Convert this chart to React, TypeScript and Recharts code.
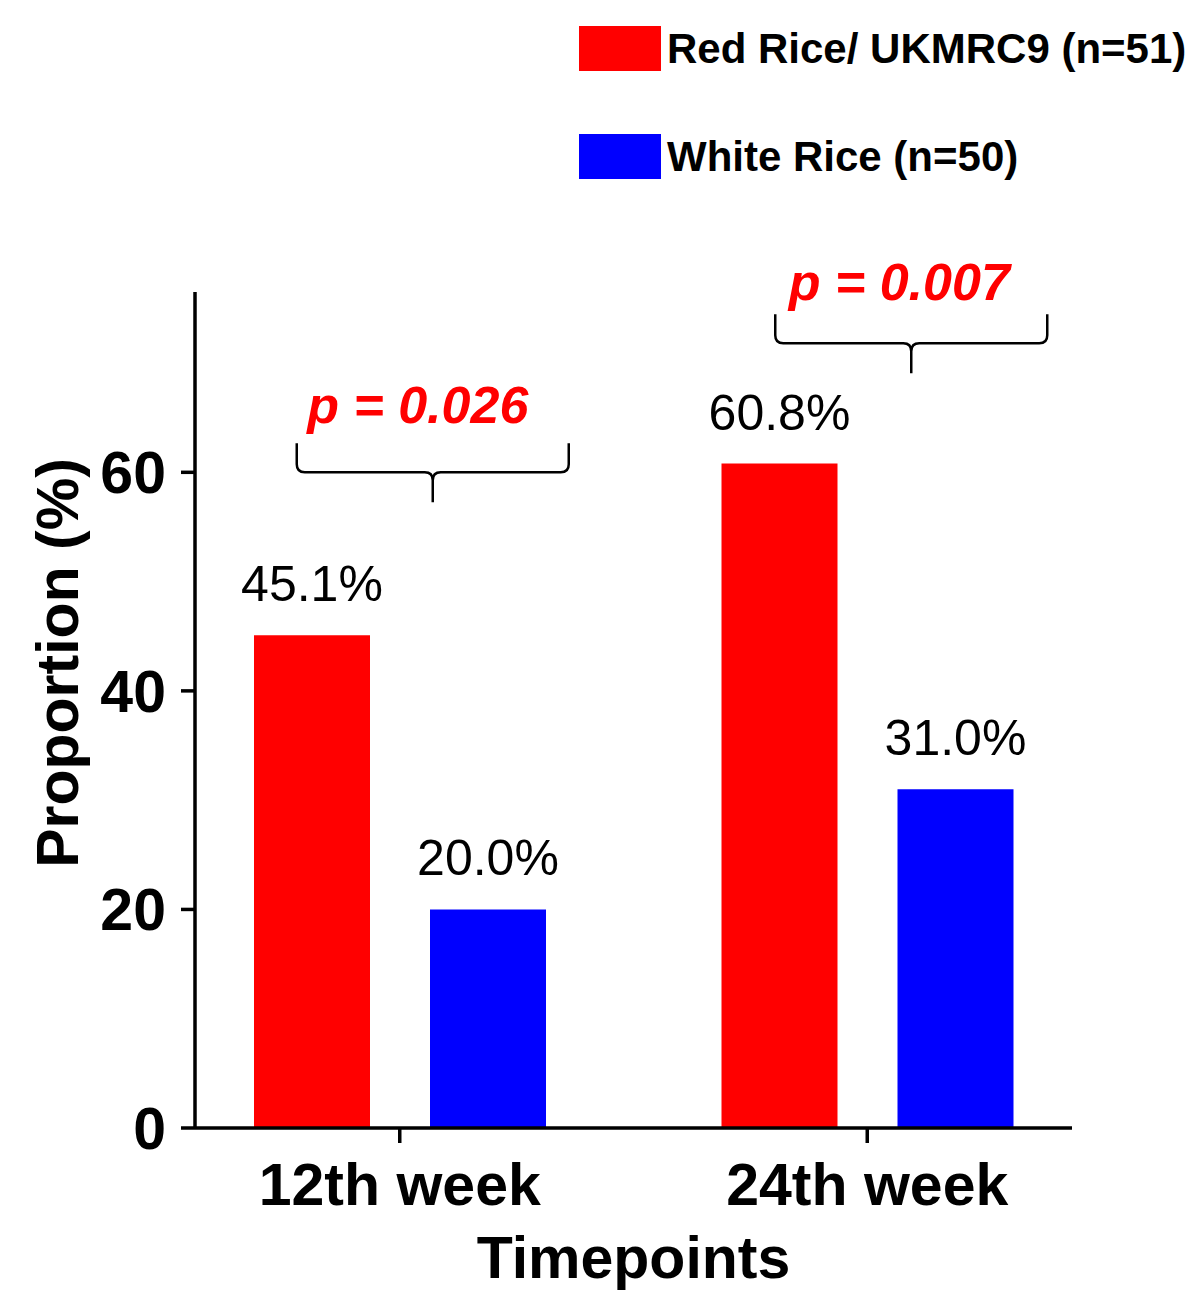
import { BarChart, Bar, XAxis, YAxis, LabelList, Label, ReferenceDot } from "recharts";

const weeks = ["12th week", "24th week"];
const redRice = [45.1, 60.8];
const whiteRice = [20.0, 31.0];
const seriesNames = ["Red Rice/ UKMRC9 (n=51)", "White Rice (n=50)"];
const seriesColors = ["#ff0000", "#0000ff"];
const pValues = ["p = 0.026", "p = 0.007"];
const yTicks = [0, 20, 40, 60];

const data = weeks.map((week, i) => ({ week, red: redRice[i], white: whiteRice[i] }));

const FONT = "'Liberation Sans', Arial, Helvetica, sans-serif";
const axisStroke = { stroke: "#000", strokeWidth: 3.5 };
const tickFont = { fill: "#000", fontSize: 59, fontWeight: 700, fontFamily: FONT };

// brace placement per timepoint (level in axis units, shifts in px from the category centre)
const braces = [
  { week: weeks[0], level: 60, braceShift: 33, textShift: 18, textRise: 49 },
  { week: weeks[1], level: 71.8, braceShift: 44, textShift: 32, textRise: 43 },
];

function braceShape(text: string, braceShift: number, textShift: number, textRise: number) {
  return (props: any) => {
    const { cx, cy } = props;
    const bx = cx + braceShift;
    const half = 136;
    const tip = 29;
    const spike = 30;
    const r = 8;
    const d = [
      `M${bx - half},${cy - tip}`,
      `L${bx - half},${cy - r}`,
      `Q${bx - half},${cy} ${bx - half + r},${cy}`,
      `L${bx - r},${cy}`,
      `Q${bx},${cy} ${bx},${cy + r}`,
      `L${bx},${cy + spike}`,
      `M${bx},${cy + r}`,
      `Q${bx},${cy} ${bx + r},${cy}`,
      `L${bx + half - r},${cy}`,
      `Q${bx + half},${cy} ${bx + half},${cy - r}`,
      `L${bx + half},${cy - tip}`,
    ].join(" ");
    return (
      <g>
        <path d={d} fill="none" stroke="#000" strokeWidth={2.5} />
        <text
          x={cx + textShift}
          y={cy - textRise}
          textAnchor="middle"
          fill="#ff0000"
          fontSize={52}
          fontWeight={700}
          fontStyle="italic"
          fontFamily={FONT}
        >
          {text}
        </text>
      </g>
    );
  };
}

function YTitle(props: any) {
  const vb = props.viewBox;
  const x = vb.x + 70;
  const y = vb.y + vb.height / 2 - 47;
  return (
    <text
      x={x}
      y={y}
      transform={`rotate(-90, ${x}, ${y})`}
      textAnchor="middle"
      fill="#000"
      fontSize={59}
      fontWeight={700}
      fontFamily={FONT}
    >
      Proportion (%)
    </text>
  );
}

function Legend() {
  return (
    <div style={{ position: "absolute", left: 571, top: 18, fontFamily: FONT }}>
      {seriesNames.map((name, i) => (
        <div
          key={name}
          style={{ display: "flex", alignItems: "center", height: 45, marginBottom: i === 0 ? 63 : 0 }}
        >
          <div style={{ width: 82, height: 45, background: seriesColors[i] }} />
          <span style={{ marginLeft: 6, fontSize: 42, fontWeight: 700, color: "#000", whiteSpace: "nowrap" }}>
            {name}
          </span>
        </div>
      ))}
    </div>
  );
}

export default function App() {
  return (
    <div style={{ position: "relative", width: 1184, height: 1284 }}>
      <BarChart
        width={1184}
        height={1284}
        data={data}
        margin={{ top: 284, right: 120, bottom: 0, left: 0 }}
        barSize={116}
        barGap={60}
      >
        <XAxis
          dataKey="week"
          padding={{ left: -29, right: -29 }}
          height={164}
          axisLine={axisStroke}
          tickLine={axisStroke}
          tickSize={15}
          tickMargin={20}
          tick={tickFont}
        >
          <Label
            value="Timepoints"
            position="insideBottom"
            offset={14}
            fill="#000"
            fontSize={59}
            fontWeight={700}
            fontFamily={FONT}
          />
        </XAxis>
        <YAxis
          type="number"
          domain={[0, 76.5]}
          ticks={yTicks}
          width={187}
          axisLine={axisStroke}
          tickLine={axisStroke}
          tickSize={14}
          tickMargin={15}
          tick={tickFont}
        >
          <Label content={YTitle} />
        </YAxis>
        <Bar dataKey="red" name={seriesNames[0]} fill={seriesColors[0]} isAnimationActive={false}>
          <LabelList
            dataKey="red"
            position="top"
            offset={34}
            formatter={(v: any) => `${Number(v).toFixed(1)}%`}
            fill="#000"
            fontSize={50}
            fontFamily={FONT}
          />
        </Bar>
        <Bar dataKey="white" name={seriesNames[1]} fill={seriesColors[1]} isAnimationActive={false}>
          <LabelList
            dataKey="white"
            position="top"
            offset={34}
            formatter={(v: any) => `${Number(v).toFixed(1)}%`}
            fill="#000"
            fontSize={50}
            fontFamily={FONT}
          />
        </Bar>
        {braces.map((b, i) => (
          <ReferenceDot
            key={b.week}
            x={b.week}
            y={b.level}
            r={0}
            shape={braceShape(pValues[i], b.braceShift, b.textShift, b.textRise)}
          />
        ))}
      </BarChart>
      <Legend />
    </div>
  );
}
